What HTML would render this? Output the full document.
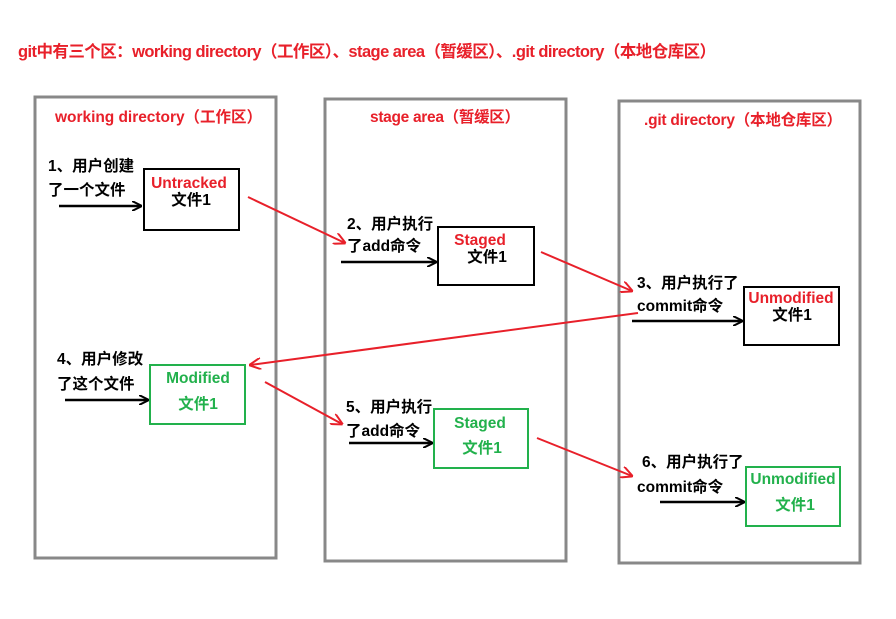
<!DOCTYPE html>
<html><head><meta charset="utf-8"><style>
html,body{margin:0;padding:0;background:#fff;}
svg text{font-family:"Liberation Sans","Noto Sans CJK SC",sans-serif;font-weight:bold;font-size:15.5px;}
</style></head><body>
<svg width="896" height="614" xmlns="http://www.w3.org/2000/svg">
<defs>
<marker id="bk" markerWidth="10" markerHeight="10" refX="9" refY="5" orient="auto" markerUnits="userSpaceOnUse"><path d="M0,0 L10,5 L0,10" fill="none" stroke="#000" stroke-width="2"/></marker>
<marker id="rd" markerWidth="12" markerHeight="12" refX="11" refY="6" orient="auto" markerUnits="userSpaceOnUse"><path d="M0,0 L12,6 L0,12" fill="none" stroke="#e8202a" stroke-width="2"/></marker>
</defs>
<text x="18" y="57" fill="#e8202a" style="font-size:16.5px" textLength="698" lengthAdjust="spacing">git中有三个区：working directory（工作区）、stage area（暂缓区）、.git directory（本地仓库区）</text>
<rect x="35" y="97" width="241" height="461" fill="none" stroke="#888" stroke-width="3"/>
<rect x="325" y="99" width="241" height="462" fill="none" stroke="#888" stroke-width="3"/>
<rect x="619" y="101" width="241" height="462" fill="none" stroke="#888" stroke-width="3"/>
<text x="55" y="122" fill="#e8202a" textLength="207" lengthAdjust="spacing">working directory（工作区）</text>
<text x="370" y="122" fill="#e8202a" textLength="150" lengthAdjust="spacing">stage area（暂缓区）</text>
<text x="644" y="125" fill="#e8202a" textLength="198" lengthAdjust="spacing">.git directory（本地仓库区）</text>

<rect x="144" y="169" width="95" height="61" fill="none" stroke="#000" stroke-width="2"/>
<text x="189" y="188" fill="#e8202a" text-anchor="middle">Untracked</text>
<text x="191" y="205" fill="#000" text-anchor="middle">文件1</text>
<text x="48" y="171">1、用户创建</text><text x="48" y="195">了一个文件</text>
<line x1="59" y1="206" x2="141" y2="206" stroke="#000" stroke-width="2.5" marker-end="url(#bk)"/>

<rect x="438" y="227" width="96" height="58" fill="none" stroke="#000" stroke-width="2"/>
<text x="480" y="245" fill="#e8202a" text-anchor="middle">Staged</text>
<text x="487" y="262" fill="#000" text-anchor="middle">文件1</text>
<text x="347" y="229">2、用户执行</text><text x="347" y="251">了add命令</text>
<line x1="341" y1="262" x2="436" y2="262" stroke="#000" stroke-width="2.5" marker-end="url(#bk)"/>

<rect x="744" y="287" width="95" height="58" fill="none" stroke="#000" stroke-width="2"/>
<text x="791" y="303" fill="#e8202a" text-anchor="middle">Unmodified</text>
<text x="792" y="320" fill="#000" text-anchor="middle">文件1</text>
<text x="637" y="288">3、用户执行了</text><text x="637" y="311">commit命令</text>
<line x1="632" y1="321" x2="742" y2="321" stroke="#000" stroke-width="2.5" marker-end="url(#bk)"/>

<rect x="150" y="365" width="95" height="59" fill="none" stroke="#22b14c" stroke-width="2"/>
<text x="198" y="383" fill="#22b14c" text-anchor="middle">Modified</text>
<text x="198" y="409" fill="#22b14c" text-anchor="middle">文件1</text>
<text x="57" y="364">4、用户修改</text><text x="57" y="389">了这个文件</text>
<line x1="65" y1="400" x2="148" y2="400" stroke="#000" stroke-width="2.5" marker-end="url(#bk)"/>

<rect x="434" y="409" width="94" height="59" fill="none" stroke="#22b14c" stroke-width="2"/>
<text x="480" y="428" fill="#22b14c" text-anchor="middle">Staged</text>
<text x="482" y="453" fill="#22b14c" text-anchor="middle">文件1</text>
<text x="346" y="412">5、用户执行</text><text x="346" y="436">了add命令</text>
<line x1="349" y1="443" x2="432" y2="443" stroke="#000" stroke-width="2.5" marker-end="url(#bk)"/>

<rect x="746" y="467" width="94" height="59" fill="none" stroke="#22b14c" stroke-width="2"/>
<text x="793" y="484" fill="#22b14c" text-anchor="middle">Unmodified</text>
<text x="795" y="510" fill="#22b14c" text-anchor="middle">文件1</text>
<text x="642" y="467">6、用户执行了</text><text x="637" y="492">commit命令</text>
<line x1="660" y1="502" x2="744" y2="502" stroke="#000" stroke-width="2.5" marker-end="url(#bk)"/>

<g stroke="#e8202a" stroke-width="2" fill="none">
<line x1="248" y1="197" x2="345" y2="243" marker-end="url(#rd)"/>
<line x1="541" y1="252" x2="632" y2="291" marker-end="url(#rd)"/>
<line x1="638" y1="313" x2="250" y2="365" marker-end="url(#rd)"/>
<line x1="265" y1="382" x2="342" y2="424" marker-end="url(#rd)"/>
<line x1="537" y1="438" x2="632" y2="476" marker-end="url(#rd)"/>
</g>
</svg>
</body></html>
